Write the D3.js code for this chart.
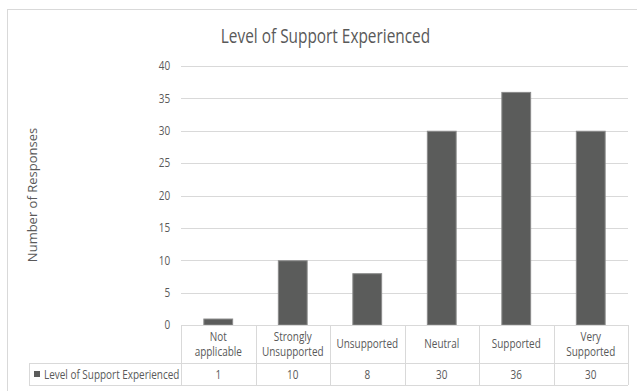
<!DOCTYPE html>
<html>
<head>
<meta charset="utf-8">
<script src="https://cdn.jsdelivr.net/npm/d3@7"></script>
<style>
  html, body { margin: 0; padding: 0; background: #fff; }
  svg { display: block; }
  text { font-family: "Open Sans", "Noto Sans", sans-serif; fill: #595959; }
</style>
</head>
<body>
<svg id="chart" width="637" height="391"></svg>
<script>
// Survey responses by level of support
const categories = [["Not", "applicable"], ["Strongly", "Unsupported"], ["Unsupported"], ["Neutral"], ["Supported"], ["Very", "Supported"]];
const values = [1, 10, 8, 30, 36, 30];
const seriesName = "Level of Support Experienced";
const yTicks = [0, 5, 10, 15, 20, 25, 30, 35, 40];
const chartTitle = "Level of Support Experienced";
const yTitle = "Number of Responses";

const svg = d3.select("#chart");
const grid = "#d9d9d9";
const barFill = "#5b5c5b";
const narrow = 0.83; // horizontal squeeze for a condensed look

const plot = { left: 181, right: 628, top: 66, bottom: 325 };
const table = { legendLeft: 29, headerBottom: 363, bottom: 385 };

// place text at (x, y) with horizontal compression
function label(parent, x, y, str, size, anchor, sx) {
  return parent.append("text")
    .attr("transform", `translate(${x},${y}) scale(${sx},1)`)
    .attr("text-anchor", anchor)
    .attr("font-size", size)
    .text(str);
}

// chart frame
svg.append("rect")
  .attr("x", 7.5).attr("y", 9.5)
  .attr("width", 700).attr("height", 400)
  .attr("fill", "#fff").attr("stroke", grid);

const x = d3.scaleBand()
  .domain(d3.range(categories.length))
  .range([plot.left, plot.right])
  .paddingInner(0.6).paddingOuter(0.3);

const colX = d3.scaleBand()
  .domain(d3.range(categories.length))
  .range([plot.left, plot.right]);

const y = d3.scaleLinear().domain([0, 40]).range([plot.bottom, plot.top]);

// horizontal gridlines
svg.append("g").selectAll("line")
  .data(yTicks.filter(t => t > 0))
  .join("line")
  .attr("x1", plot.left).attr("x2", plot.right)
  .attr("y1", d => Math.round(y(d)) + 0.5).attr("y2", d => Math.round(y(d)) + 0.5)
  .attr("stroke", grid).attr("stroke-width", 1);

// y axis labels
const yAxis = d3.axisLeft(y).tickValues(yTicks).tickSize(0).tickPadding(13);
const gy = svg.append("g").attr("transform", `translate(${plot.left},0)`).call(yAxis);
gy.select(".domain").remove();
gy.selectAll("text")
  .attr("font-size", 12)
  .style("font-family", "'Open Sans', sans-serif")
  .attr("fill", "#595959")
  .attr("transform", `scale(${narrow},1)`);

// bars
svg.append("g").selectAll("rect")
  .data(values)
  .join("rect")
  .attr("x", (d, i) => x(i) + 0.5)
  .attr("width", x.bandwidth() - 1)
  .attr("y", d => y(d) + 0.5)
  .attr("height", d => y(0) - y(d) - 0.5)
  .attr("fill", barFill)
  .attr("stroke", "#8a8a8a").attr("stroke-width", 1);

// data table grid
const tg = svg.append("g").attr("stroke", grid).attr("stroke-width", 1);
tg.append("line").attr("x1", plot.left).attr("x2", plot.right)
  .attr("y1", plot.bottom + 0.5).attr("y2", plot.bottom + 0.5);
tg.append("line").attr("x1", table.legendLeft).attr("x2", plot.right)
  .attr("y1", table.headerBottom + 0.5).attr("y2", table.headerBottom + 0.5);
tg.append("line").attr("x1", table.legendLeft).attr("x2", plot.right)
  .attr("y1", table.bottom + 0.5).attr("y2", table.bottom + 0.5);
tg.append("line").attr("x1", table.legendLeft + 0.5).attr("x2", table.legendLeft + 0.5)
  .attr("y1", table.headerBottom).attr("y2", table.bottom);
tg.selectAll("line.col")
  .data(d3.range(categories.length + 1))
  .join("line").attr("class", "col")
  .attr("x1", i => Math.round(plot.left + i * colX.bandwidth()) + 0.5)
  .attr("x2", i => Math.round(plot.left + i * colX.bandwidth()) + 0.5)
  .attr("y1", plot.bottom).attr("y2", table.bottom);

// category headers
const headerMid = (plot.bottom + table.headerBottom) / 2;
const lh = 15;
categories.forEach((lines, i) => {
  const cx = colX(i) + colX.bandwidth() / 2;
  const start = headerMid - (lines.length - 1) * lh / 2 + 4;
  lines.forEach((ln, k) => label(svg, cx, start + k * lh, ln, 12, "middle", narrow));
});

// value row
const rowMid = (table.headerBottom + table.bottom) / 2;
values.forEach((v, i) => label(svg, colX(i) + colX.bandwidth() / 2, rowMid + 4.5, v, 12, "middle", narrow));

// legend key in the table
svg.append("rect")
  .attr("x", 34).attr("y", 371).attr("width", 6).attr("height", 6)
  .attr("fill", barFill);
label(svg, 44, rowMid + 4.5, seriesName, 12, "start", narrow);

// chart title
label(svg, 325.5, 43, chartTitle, 20, "middle", 0.77);

// y axis title
svg.append("text")
  .attr("transform", `translate(37,195) rotate(-90)`)
  .attr("text-anchor", "middle").attr("font-size", 13)
  .text(yTitle);
</script>
</body>
</html>
